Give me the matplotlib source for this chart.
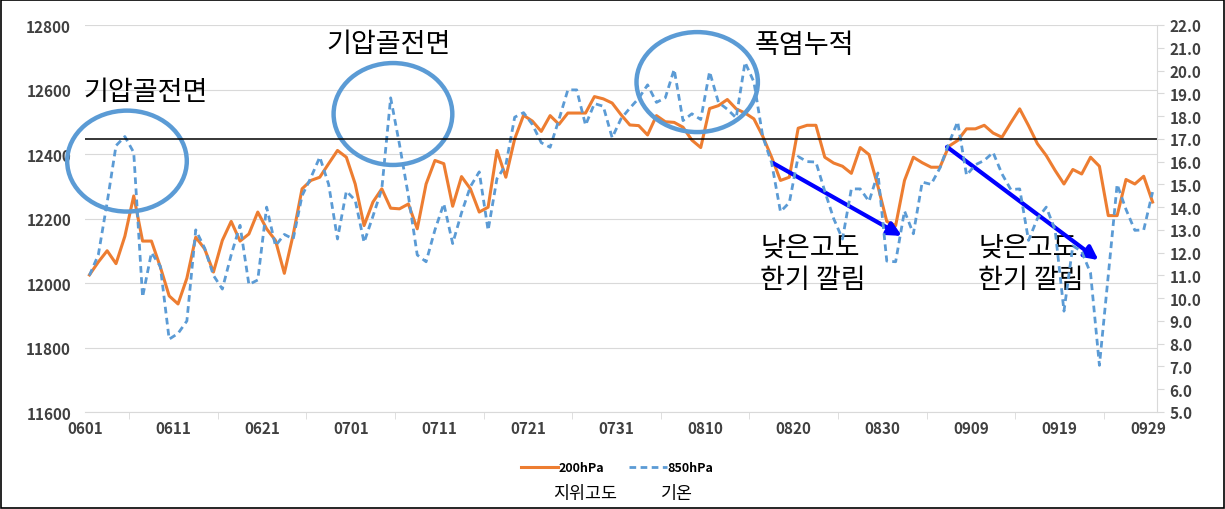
import numpy as np
import matplotlib
matplotlib.use('Agg')
import matplotlib.pyplot as plt
import matplotlib.ticker as mticker
from matplotlib.patches import Ellipse, Rectangle
from matplotlib.lines import Line2D

plt.rcParams['font.family'] = ['Noto Sans CJK KR', 'DejaVu Sans']

# 일별 자료 (0601 ~ 0929)
x_labels = ['0601', '0611', '0621', '0701', '0711', '0721', '0731',
            '0810', '0820', '0830', '0909', '0919', '0929']

# 200hPa 지위고도 (m)
gph200 = [12025, 12065, 12100, 12060, 12145, 12270, 12130, 12130, 12050, 11960,
          11935, 12015, 12142, 12106, 12034, 12132, 12191, 12130, 12152, 12220,
          12168, 12132, 12030, 12150, 12292, 12318, 12328, 12370, 12411, 12390,
          12307, 12178, 12251, 12292, 12232, 12230, 12245, 12168, 12307, 12380,
          12370, 12238, 12330, 12292, 12220, 12235, 12411, 12328, 12447, 12520,
          12502, 12470, 12519, 12492, 12527, 12527, 12527, 12578, 12571, 12558,
          12522, 12490, 12488, 12459, 12519, 12500, 12498, 12483, 12443, 12420,
          12541, 12550, 12569, 12540, 12527, 12509, 12455, 12390, 12318, 12328,
          12480, 12489, 12489, 12390, 12372, 12362, 12340, 12420, 12398, 12300,
          12191, 12178, 12318, 12390, 12373, 12359, 12359, 12424, 12442, 12478,
          12478, 12489, 12465, 12452, 12497, 12540, 12488, 12432, 12395, 12349,
          12307, 12352, 12338, 12390, 12362, 12209, 12209, 12321, 12307, 12331,
          12251]

# 850hPa 기온 (℃)
t850 = [11.0, 11.9, 14.2, 16.7, 17.1, 16.4, 10.05, 12.0, 11.4, 8.2,
        8.45, 9.0, 13.0, 12.2, 11.0, 10.4, 11.9, 13.2, 10.6, 10.8,
        14.0, 12.3, 12.8, 12.6, 14.5, 15.3, 16.2, 15.0, 12.6, 14.7,
        14.3, 12.45, 13.6, 14.8, 18.8, 16.75, 14.5, 11.9, 11.6, 13.0,
        14.15, 12.4, 13.75, 14.9, 15.55, 12.98, 15.25, 15.85, 17.95, 18.15,
        17.63, 16.83, 16.63, 17.85, 19.15, 19.15, 17.6, 18.55, 18.43, 17.05,
        17.88, 18.35, 18.78, 19.37, 18.6, 18.8, 20.05, 17.8, 18.1, 17.85,
        19.95, 18.6, 18.3, 17.92, 20.36, 19.5, 17.1, 15.95, 13.8, 14.2,
        16.22, 16.0, 15.98, 14.7, 13.5, 12.6, 14.8, 14.8, 14.25, 15.5,
        11.63, 11.6, 13.83, 12.83, 15.1, 15.0, 15.72, 16.8, 17.75, 15.4,
        15.86, 16.05, 16.4, 15.46, 14.77, 14.8, 12.54, 13.5, 14.0, 13.0,
        9.43, 12.3, 12.05, 11.1, 7.05, 11.0, 15.0, 13.9, 12.98, 13.0,
        14.66]

t_ref = 17.0   # 기준선

days = np.arange(len(gph200))

fsz = 11
c_gph = '#ED7D31'
c_t = '#5B9BD5'
c_txt = '#404040'

fig = plt.figure(figsize=(12.25, 5.10), dpi=100)
W, H = 1225, 510
ax = fig.add_axes([85 / W, 1 - 413 / H, (1157 - 85) / W, (413 - 26) / H])
ax2 = ax.twinx()

ax.plot(days, gph200, color=c_gph, lw=2.2)
ax2.plot(days, t850, color=c_t, lw=2.0, ls=(0, (2.4, 1.6)))
ax2.axhline(t_ref, color='black', lw=1.1)

# axes
ax.set_xlim(-0.5, 120.5)
ax.set_ylim(11600, 12800)
ax2.set_ylim(5, 22)
ax.set_yticks(np.arange(11600, 12801, 200))
ax2.set_yticks(np.arange(5, 22.01, 1.0))
ax2.yaxis.set_major_formatter(mticker.FormatStrFormatter('%.1f'))
ax.set_xticks(np.arange(0, 121, 10) - 0.5)
ax.set_xticklabels(x_labels)
ax.set_xticks(np.arange(0, 121, 5) - 0.5, minor=True)

ax.grid(axis='y', color='#D9D9D9', lw=0.8)
ax.set_axisbelow(True)
for s in ['left', 'top', 'right']:
    ax.spines[s].set_visible(False)
for s in ['left', 'top', 'bottom']:
    ax2.spines[s].set_visible(False)
ax.spines['bottom'].set_color('#D9D9D9')
ax2.spines['right'].set_color('#D9D9D9')

ax.tick_params(axis='y', length=0, labelsize=fsz, labelcolor=c_txt, pad=10)
ax.tick_params(axis='x', which='both', length=5, color='#D9D9D9',
               labelsize=fsz, labelcolor=c_txt, pad=6)
ax.tick_params(axis='x', which='major', length=0)
ax2.tick_params(axis='y', length=5, color='#D9D9D9', labelsize=fsz,
                labelcolor=c_txt, pad=4)
for lbl in ax.get_xticklabels() + ax.get_yticklabels() + ax2.get_yticklabels():
    lbl.set_fontweight('bold')

# 강조 원
for cx, cy, w, h in [(4.24, 12378, 13.5, 313), (34.26, 12524, 13.4, 316),
                     (68.6, 12623, 13.7, 310)]:
    ax.add_patch(Ellipse((cx, cy), w, h, fill=False, ec=c_t, lw=3.2,
                         clip_on=False, zorder=5))

tsz = 19.5
tw = 'medium'
ax.text(-0.73, 12595, '기압골전면', fontsize=tsz, fontweight=tw, ha='left', va='center')
ax.text(26.7, 12744, '기압골전면', fontsize=tsz, fontweight=tw, ha='left', va='center')
ax.text(75.1, 12738, '폭염누적', fontsize=tsz, fontweight=tw, ha='left', va='center')
ax.text(75.7, 12062, '낮은고도\n한기 깔림', fontsize=tsz, fontweight=tw, ha='left',
        va='center', linespacing=1.25)
ax.text(100.3, 12062, '낮은고도\n한기 깔림', fontsize=tsz, fontweight=tw, ha='left',
        va='center', linespacing=1.25)

# 화살표
for (x0, y0), (x1, y1) in [((77.15, 12372), (91.7, 12146)),
                           ((96.8, 12422), (113.9, 12071))]:
    ax.annotate('', xy=(x1, y1), xytext=(x0, y0),
                arrowprops=dict(arrowstyle='-|>', color='#0000FF', lw=3,
                                mutation_scale=20, shrinkA=0, shrinkB=0))

# legend
handles = [Line2D([], [], color=c_gph, lw=2.2),
           Line2D([], [], color=c_t, lw=2.0, ls=(0, (2.4, 1.6)))]
fig.legend(handles, ['200hPa', '850hPa'], loc='center',
           bbox_to_anchor=(617 / W, 1 - 469 / H), ncol=2, frameon=False,
           handlelength=3.0, handletextpad=0.05, columnspacing=2.0,
           prop={'weight': 'bold', 'size': 9})
fig.text(585 / W, 1 - 494 / H, '지위고도', fontsize=12.5, fontweight=tw,
         ha='center', va='center')
fig.text(677 / W, 1 - 494 / H, '기온', fontsize=12.5, fontweight=tw,
         ha='center', va='center')

fig.patches.append(Rectangle((1 / W, 1 / H), 1 - 2 / W, 1 - 2 / H,
                             transform=fig.transFigure, fill=False,
                             ec='black', lw=1.2))

fig.savefig('out.png', dpi=100)
